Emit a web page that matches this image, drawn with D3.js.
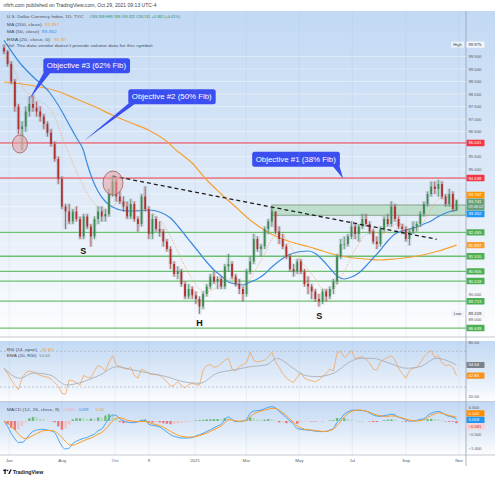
<!DOCTYPE html>
<html><head><meta charset="utf-8">
<script src="https://cdn.jsdelivr.net/npm/d3@7/dist/d3.min.js"></script>
<style>html,body{margin:0;padding:0;background:#fff}svg{display:block}</style>
</head><body><svg id="chart" width="495" height="480"></svg>
<script>
// ---------------- DATA ----------------
const startDate = "2020-05-26", endDate = "2021-10-29";
const opens = [99.85,99.7,99.2,98.5,97.5,96.6,96.7,97.3,97.6,97.45,
97.3,97.1,96.8,96.45,96.0,95.4,94.6,93.5,93.3,92.9,
93.3,93.0,92.3,93.1,92.7,92.3,93.0,93.3,93.1,93.2,
94.0,94.5,93.9,93.7,93.5,93.1,93.6,93.0,92.8,93.9,
93.4,92.4,93.0,92.6,92.5,92.1,91.8,91.2,90.8,90.9,
90.4,89.9,90.2,89.95,89.8,89.5,90.0,90.3,90.7,90.5,
90.6,90.3,91.1,91.2,90.7,90.4,90.2,90.0,90.9,91.3,
92.2,91.8,91.9,92.6,92.9,93.3,92.5,92.2,91.9,91.5,
91.0,90.9,91.3,90.9,90.4,90.3,90.1,89.8,89.7,90.1,
89.9,90.2,90.5,91.5,92.0,92.0,92.3,92.7,92.4,92.7,
93.0,92.8,92.5,92.1,92.0,92.6,93.0,92.8,93.5,93.0,
92.7,92.6,92.2,92.5,92.7,92.8,93.2,93.6,94.0,94.3,
94.2,94.4,93.9,93.6,94.0,93.359];
const highs = [99.975,99.75,99.3,98.6,97.6,96.9,97.5,97.9,97.95,97.7,
97.5,97.2,96.9,96.6,96.1,95.5,94.7,93.6,93.6,93.4,
93.5,93.1,93.2,93.2,92.8,93.1,93.5,93.5,93.4,94.2,
94.7,94.6,94.1,93.9,93.7,93.8,93.7,93.1,94.0,94.3,
93.5,93.2,93.1,92.9,92.6,92.2,91.9,91.3,91.1,91.0,
90.5,90.4,90.3,90.1,89.9,90.1,90.4,90.8,90.9,90.7,
90.7,91.2,91.6,91.3,90.8,90.6,90.3,91.0,91.5,92.4,
92.3,92.0,92.7,93.0,93.45,93.3,92.7,92.4,92.0,91.6,
91.2,91.4,91.4,91.0,90.7,90.4,90.2,90.0,90.2,90.2,
90.3,90.6,91.6,92.2,92.3,92.4,92.9,92.8,92.8,93.2,
93.2,92.9,92.6,92.3,92.7,93.1,93.2,93.7,93.6,93.1,
92.8,92.7,92.6,92.9,92.9,93.3,93.7,94.1,94.5,94.5,
94.56,94.5,94.0,94.2,94.1,93.769];
const lows = [99.6,99.1,98.4,97.3,96.4,95.75,96.5,97.1,97.3,97.1,
96.9,96.6,96.3,95.9,95.3,94.4,93.4,92.6,92.8,92.8,
92.9,92.2,92.2,92.6,91.9,92.2,92.8,92.9,92.9,93.1,
93.9,93.7,93.6,93.3,93.0,93.0,92.9,92.5,92.7,93.3,
92.2,92.2,92.5,92.3,91.9,91.7,91.0,90.7,90.6,90.3,
89.8,89.8,89.8,89.6,89.209,89.4,89.9,90.2,90.4,90.2,
90.2,90.2,90.9,90.6,90.3,90.0,89.7,89.9,90.8,91.2,
91.7,91.5,91.8,92.4,92.7,92.4,92.0,91.8,91.4,90.9,
90.7,90.8,90.8,90.3,90.0,89.8,89.7,89.5,89.6,89.7,
89.8,90.0,90.4,91.4,91.8,91.9,92.2,92.2,92.1,92.6,
92.7,92.4,92.0,91.8,91.9,92.5,92.7,92.7,92.9,92.6,
92.4,92.1,91.95,92.4,92.5,92.7,93.1,93.5,93.9,94.0,
93.9,93.8,93.5,93.5,93.3,93.322];
const closes = [99.7,99.2,98.5,97.5,96.6,96.7,97.3,97.6,97.45,97.3,
97.1,96.8,96.45,96.0,95.4,94.6,93.5,93.3,92.9,93.3,
93.0,92.3,93.1,92.7,92.3,93.0,93.3,93.1,93.2,94.0,
94.5,93.9,93.7,93.5,93.1,93.6,93.0,92.8,93.9,93.4,
92.4,93.0,92.6,92.5,92.1,91.8,91.2,90.8,90.9,90.4,
89.9,90.2,89.95,89.8,89.5,90.0,90.3,90.7,90.5,90.6,
90.3,91.1,91.2,90.7,90.4,90.2,90.0,90.9,91.3,92.2,
91.8,91.9,92.6,92.9,93.3,92.5,92.2,91.9,91.5,91.0,
90.9,91.3,90.9,90.4,90.3,90.1,89.8,89.7,90.1,89.9,
90.2,90.5,91.5,92.0,92.0,92.3,92.7,92.4,92.7,93.0,
92.8,92.5,92.1,92.0,92.6,93.0,92.8,93.5,93.0,92.7,
92.6,92.2,92.5,92.7,92.8,93.2,93.6,94.0,94.3,94.2,
94.4,93.9,93.6,94.0,93.4,93.741];

// moving averages as [bar index, value]
const ma200 = [[0,98.48],[5,98.4],[10,98.28],[15,98.1],[20,97.8],[25,97.5],[30,97.15],[35,96.85],[40,96.55],[45,96.1],[48,95.7],[50,95.48],[52,95.24],[54,94.9],[56,94.56],[58,94.28],[60,94.0],[64,93.48],[68,92.96],[72,92.55],[76,92.25],[80,92.05],[84,91.9],[88,91.72],[92,91.55],[96,91.45],[100,91.4],[104,91.36],[108,91.4],[112,91.47],[116,91.57],[120,91.72],[125,91.957]];
const ma50 = [[0,100.15],[1.2,99.89],[4.4,99.24],[8,98.69],[12.7,98.04],[15,97.55],[17.3,96.96],[20,96.25],[21.9,95.76],[23,95.2],[24.5,94.56],[26,94.1],[28,93.7],[30,93.48],[33,93.34],[36,93.32],[40,93.36],[43,93.28],[46,93.04],[48,92.72],[50,92.36],[52,92.0],[54,91.64],[56,91.28],[58,90.96],[60,90.72],[62,90.48],[64,90.4],[66,90.36],[68,90.48],[70,90.6],[72,90.8],[74,91.08],[76,91.32],[78,91.52],[80,91.64],[82,91.7],[84,91.72],[86,91.62],[88,91.36],[90,91.04],[92,90.72],[94,90.6],[96,90.68],[98,90.84],[100,91.12],[102,91.44],[104,91.76],[106,92.12],[108,92.4],[110,92.52],[112,92.6],[114,92.68],[116,92.8],[118,92.92],[120,93.1],[122,93.24],[125,93.352]];
const ema20 = [[0,99.5],[2,99.2],[4,98.6],[6,98.1],[8,97.9],[10,97.7],[12,97.5],[14,97.1],[16,96.3],[18,95.6],[20,94.9],[22,94.3],[24,93.8],[26,93.5],[28,93.3],[30,93.5],[32,93.75],[34,93.6],[36,93.4],[38,93.35],[40,93.4],[42,93.1],[44,92.8],[46,92.3],[48,91.7],[50,91.1],[52,90.6],[54,90.2],[56,90.1],[58,90.2],[60,90.4],[62,90.6],[64,90.6],[66,90.4],[68,90.6],[70,91.1],[72,91.6],[74,92.2],[76,92.4],[78,92.2],[80,91.7],[82,91.3],[84,91.0],[86,90.6],[88,90.2],[90,90.1],[92,90.4],[94,90.9],[96,91.5],[98,92.0],[100,92.4],[102,92.5],[104,92.4],[106,92.5],[108,92.8],[110,92.8],[112,92.6],[114,92.6],[116,92.9],[118,93.4],[120,93.8],[122,93.9],[125,93.767]];

const rsi = [51,45,38,32,27,40,46,48,47,45,
43,42,41,39,35,31,23,22,38,37,
35,32,43,41,40,48,54,52,48,58,
65,55,53,51,50,52,43,40,50,48,
45,44,44,43,40,36,31,32,36,32,
29,33,34,33,32,49,54,55,52,53,
56,60,62,50,48,53,55,57,69,60,
58,59,60,64,69,58,52,45,40,37,
35,41,46,40,38,37,36,38,42,45,
50,48,68,70,63,66,71,62,63,64,
61,57,50,49,58,61,63,65,60,51,
45,40,48,51,52,57,64,68,71,63,
65,57,54,55,52,42.8];
const rsiEma = [[0,51],[4.4,39.8],[8,45.7],[12.7,43.5],[17.3,32.3],[21.9,36],[26.5,43.5],[31.1,52.7],[35.7,49],[40.3,45.4],[44.9,41.6],[49.5,36],[54.1,34.2],[58.8,45.4],[63.3,49],[68,52.7],[72.6,55],[75.3,62],[79.9,51],[82.7,43.5],[86.4,41.6],[91,45.4],[95.6,58.3],[98.4,62.1],[102,62],[106.6,56.4],[111.2,51],[114.9,52.7],[119.5,62.1],[123.2,58.3],[125,54.64]];

const macd = [0.0,-0.2,-0.45,-0.65,-0.78,-0.78,-0.68,-0.5,-0.38,-0.33,
-0.31,-0.3,-0.33,-0.36,-0.42,-0.67,-0.92,-1.02,-0.99,-0.82,
-0.74,-0.68,-0.63,-0.6,-0.53,-0.48,-0.35,-0.3,-0.1,0.1,
0.22,0.2,0.08,0.0,-0.04,-0.06,-0.06,-0.03,0.02,0.03,
-0.12,-0.16,-0.18,-0.22,-0.3,-0.4,-0.5,-0.56,-0.6,-0.62,
-0.62,-0.62,-0.6,-0.55,-0.5,-0.45,-0.38,-0.32,-0.25,-0.18,
-0.12,0.05,0.15,0.05,-0.02,-0.02,0.0,0.06,0.28,0.36,
0.38,0.4,0.45,0.5,0.52,0.48,0.35,0.25,0.12,0.0,
-0.12,-0.28,-0.3,-0.32,-0.33,-0.35,-0.37,-0.38,-0.39,-0.38,
-0.33,-0.27,-0.05,0.08,0.25,0.33,0.39,0.4,0.39,0.38,
0.36,0.3,0.22,0.18,0.17,0.2,0.22,0.25,0.22,0.14,
0.1,0.04,0.0,0.0,0.02,0.06,0.08,0.2,0.28,0.33,
0.35,0.3,0.22,0.17,0.14,0.059];
const signal = [0.0,-0.08,-0.2,-0.33,-0.47,-0.6,-0.64,-0.6,-0.53,-0.46,
-0.4,-0.35,-0.34,-0.35,-0.37,-0.47,-0.6,-0.75,-0.86,-0.88,
-0.84,-0.78,-0.72,-0.67,-0.62,-0.56,-0.48,-0.42,-0.3,-0.15,
0.0,0.1,0.12,0.08,0.03,0.0,-0.01,-0.02,-0.02,-0.02,
-0.06,-0.1,-0.13,-0.17,-0.22,-0.3,-0.38,-0.45,-0.52,-0.56,
-0.58,-0.59,-0.58,-0.57,-0.53,-0.49,-0.44,-0.38,-0.32,-0.25,
-0.18,-0.06,0.05,0.04,0.01,-0.01,0.0,0.02,0.15,0.26,
0.32,0.36,0.4,0.43,0.46,0.46,0.4,0.3,0.2,0.07,
-0.05,-0.18,-0.25,-0.3,-0.32,-0.33,-0.35,-0.37,-0.38,-0.38,
-0.35,-0.3,-0.16,-0.02,0.15,0.27,0.35,0.39,0.4,0.39,
0.36,0.32,0.26,0.22,0.19,0.17,0.17,0.19,0.18,0.14,
0.11,0.07,0.03,0.01,0.0,0.02,0.05,0.13,0.2,0.26,
0.3,0.28,0.24,0.2,0.17,0.14];

const greenLevels = [92.465, 91.510, 90.905, 90.518, 89.713, 88.639];
const redLevels = [96.041, 94.638];
const zone = {from: 74, top: 93.56, bottom: 93.15};
const trendline = [[30, 94.72], [119.5, 92.19]];
const circles = [{i: 4.4, p: 96.0, rx: 7.5, ry: 9}, {i: 30.1, p: 94.44, rx: 10, ry: 12}];
const callouts = [
  {text: "Objective #3 (62% Fib)", i: 7.0, p: 97.79, dx: 14, dy: -41, w: 86.7, side: "left"},
  {text: "Objective #2 (50% Fib)", i: 22.1, p: 96.13, dx: 44.3, dy: -51.4, w: 87.4, side: "left"},
  {text: "Objective #1 (38% Fib)", i: 93.7, p: 94.61, dx: -91, dy: -27, w: 87.7, side: "right"}
];
const patternLabels = [{t: "S", i: 21.9, p: 91.73}, {t: "H", i: 54, p: 88.83}, {t: "S", i: 87.1, p: 89.12}];
const timeTicks = ["2020-06-01","2020-08-01","2020-10-01","2020-11-09","2021-01-01","2021-03-01","2021-05-01","2021-07-01","2021-09-01","2021-11-01"];
const timeLabels = ["Jun","Aug","Oct","9","2021","Mar","May","Jul","Sep","Nov"];
const priceTicks = [88.5,89,89.5,90,90.5,91,91.5,92,92.5,93,93.5,94,94.5,95,95.5,96,96.5,97,97.5,98,98.5,99,99.5];
const rsiTicks = [20,40,60,80];
const macdTicks = [0.5,0,-0.5,-1];
const hiLo = {high: 99.975, low: 89.209};

// ---------------- LAYOUT ----------------
const svg = d3.select("#chart").style("font-family", '"Liberation Sans", Arial, sans-serif');
const AX = 466, W = 495;
const pane = {main: [11, 337], rsi: [341, 401.5], macd: [402, 455]};
const C = {up: "#3a8a50", down: "#b0302e", red: "#f23645", green: "#5cb860", orange: "#f59a23", blue: "#2f86e0", text: "#4a4f5a", axisText: "#555b66"};

const N = closes.length;
const t0 = d3.isoParse(startDate), t1 = d3.isoParse(endDate);
const x = d3.scaleTime().domain([t0, t1]).range([4, 456.5]);
const barDate = i => new Date(+t0 + (t1 - t0) * i / (N - 1));
const xi = i => x(barDate(i));
const y = d3.scaleLinear().domain([95, 99]).range([169, 69]);
const yr = d3.scaleLinear().domain([20, 80]).range([396, 342.3]);
const ym = d3.scaleLinear().domain([-1, 0.5]).range([448.4, 407.3]);

const defs = svg.append("defs");
const grad = defs.append("linearGradient").attr("id", "bg").attr("x1", 0).attr("y1", 0).attr("x2", 0).attr("y2", 1);
grad.append("stop").attr("offset", 0).attr("stop-color", "#c2d9f4");
grad.append("stop").attr("offset", 0.55).attr("stop-color", "#dfeaf8");
grad.append("stop").attr("offset", 1).attr("stop-color", "#fdfeff");
Object.entries(pane).forEach(([k, [a, b]]) => {
  defs.append("clipPath").attr("id", "clip-" + k).append("rect").attr("x", 0).attr("y", a).attr("width", AX).attr("height", b - a);
  svg.append("rect").attr("x", 0).attr("y", a).attr("width", W).attr("height", b - a).attr("fill", "url(#bg)");
});

// separators / axis line
[337, 401.5, 455].forEach(yy => svg.append("line").attr("x1", 0).attr("x2", W).attr("y1", yy).attr("y2", yy).attr("stroke", "#b4bac4").attr("stroke-width", 0.8));
svg.append("line").attr("x1", AX).attr("x2", AX).attr("y1", 11).attr("y2", 466).attr("stroke", "#9aa1ad").attr("stroke-width", 0.8);

// grids
const tickDates = timeTicks.map(d3.isoParse);
const gMain = svg.append("g").attr("clip-path", "url(#clip-main)");
priceTicks.forEach(p => gMain.append("line").attr("x1", 0).attr("x2", AX).attr("y1", y(p)).attr("y2", y(p)).attr("stroke", "#ffffff").attr("stroke-opacity", 0.55).attr("stroke-width", 0.7));
Object.values(pane).forEach(([a, b]) => tickDates.forEach(d => svg.append("line").attr("x1", x(d)).attr("x2", x(d)).attr("y1", a).attr("y2", b).attr("stroke", "#9fb3c9").attr("stroke-opacity", 0.22).attr("stroke-width", 0.7)));

// levels
redLevels.forEach(p => gMain.append("line").attr("x1", 0).attr("x2", AX).attr("y1", y(p)).attr("y2", y(p)).attr("stroke", C.red).attr("stroke-width", 1));
greenLevels.forEach(p => gMain.append("line").attr("x1", 0).attr("x2", AX).attr("y1", y(p)).attr("y2", y(p)).attr("stroke", "#6cc070").attr("stroke-width", 1.3));
gMain.append("rect").attr("x", xi(zone.from)).attr("y", y(zone.top)).attr("width", AX - xi(zone.from)).attr("height", y(zone.bottom) - y(zone.top))
  .attr("fill", "#9fd3a8").attr("fill-opacity", 0.55).attr("stroke", "#7f9a86").attr("stroke-width", 0.9);

// moving averages
const lineIV = d3.line().x(d => xi(d[0])).y(d => y(d[1])).curve(d3.curveMonotoneX);
gMain.append("path").attr("d", lineIV(ma200)).attr("fill", "none").attr("stroke", "#f7a032").attr("stroke-width", 1.2);
gMain.append("path").attr("d", lineIV(ma50)).attr("fill", "none").attr("stroke", "#3b8ade").attr("stroke-width", 1.2);
gMain.append("path").attr("d", lineIV(ema20)).attr("fill", "none").attr("stroke", "#f5a660").attr("stroke-width", 0.8).attr("stroke-dasharray", "1.2,1.3");

// candles
const bars = d3.range(N).map(i => ({i, o: opens[i], h: highs[i], l: lows[i], c: closes[i]}));
gMain.selectAll(".ghost").data(bars).join("rect").attr("x", d => xi(d.i) - 1.9).attr("width", 3.8)
  .attr("y", d => y(d.h) - 0.5).attr("height", d => y(d.l) - y(d.h) + 1).attr("fill", "#8c939c").attr("fill-opacity", 0.28);
gMain.selectAll(".wick").data(bars).join("line").attr("x1", d => xi(d.i)).attr("x2", d => xi(d.i))
  .attr("y1", d => y(d.h)).attr("y2", d => y(d.l)).attr("stroke", d => d.c >= d.o ? C.up : C.down).attr("stroke-width", 0.7);
gMain.selectAll(".body").data(bars).join("rect").attr("x", d => xi(d.i) - 0.9).attr("width", 1.8)
  .attr("y", d => y(Math.max(d.o, d.c))).attr("height", d => Math.max(0.7, Math.abs(y(d.o) - y(d.c))))
  .attr("fill", d => d.c >= d.o ? C.up : C.down);

// trendline, circles
gMain.append("line").attr("x1", xi(trendline[0][0])).attr("y1", y(trendline[0][1])).attr("x2", xi(trendline[1][0])).attr("y2", y(trendline[1][1]))
  .attr("stroke", "#1e1e1e").attr("stroke-width", 1.3).attr("stroke-dasharray", "4,3");
circles.forEach(c => gMain.append("ellipse").attr("cx", xi(c.i)).attr("cy", y(c.p)).attr("rx", c.rx).attr("ry", c.ry)
  .attr("fill", "#e8a3a3").attr("fill-opacity", 0.55).attr("stroke", "#a65a5a").attr("stroke-width", 0.8));

// pattern labels
patternLabels.forEach(l => gMain.append("text").attr("x", xi(l.i)).attr("y", y(l.p)).attr("text-anchor", "middle").attr("dominant-baseline", "central")
  .attr("font-size", 9).attr("font-weight", "bold").attr("fill", "#111").text(l.t));

// callouts
callouts.forEach(c => {
  const tx = xi(c.i), ty = y(c.p), bx = tx + c.dx, by = ty + c.dy, h = 15;
  const g = gMain.append("g");
  const b0 = c.side === "left" ? bx + 0.5 : bx + c.w - 7.5, b1 = b0 + 7;
  g.append("path").attr("d", `M${b0},${by + h - 1}L${tx},${ty}L${b1},${by + h - 1}Z`).attr("fill", "#3b4ff0");
  g.append("rect").attr("x", bx).attr("y", by).attr("width", c.w).attr("height", h).attr("rx", 2.5).attr("fill", "#3b4ff0");
  g.append("text").attr("x", bx + 3.5).attr("y", by + h / 2).attr("dominant-baseline", "central").attr("font-size", 7.2)
    .attr("fill", "#fff").attr("textLength", c.w - 7.5).attr("lengthAdjust", "spacingAndGlyphs").text(c.text);
});

// RSI pane
const gR = svg.append("g").attr("clip-path", "url(#clip-rsi)");
[70, 30].forEach(v => gR.append("line").attr("x1", 0).attr("x2", AX).attr("y1", yr(v)).attr("y2", yr(v)).attr("stroke", "#9aa4b0").attr("stroke-width", 0.6).attr("stroke-dasharray", "2,2"));
gR.append("path").attr("d", d3.line().x((d, i) => xi(i)).y(d => yr(d))(rsi)).attr("fill", "none").attr("stroke", "#f5a65b").attr("stroke-width", 0.8);
gR.append("path").attr("d", d3.line().x(d => xi(d[0])).y(d => yr(d[1])).curve(d3.curveMonotoneX)(rsiEma)).attr("fill", "none").attr("stroke", "#a3a8b0").attr("stroke-width", 0.8);

// MACD pane
const gM = svg.append("g").attr("clip-path", "url(#clip-macd)");
const hist = macd.map((m, i) => m - signal[i]);
gM.selectAll(".h").data(hist).join("rect").attr("x", (d, i) => xi(i) - 1.2).attr("width", 2.4)
  .attr("y", d => Math.min(ym(d), ym(0))).attr("height", d => Math.abs(ym(d) - ym(0)))
  .attr("fill", (d, i) => { const p = i ? hist[i - 1] : d; return d >= 0 ? (d >= p ? "#4caf50" : "#a5d6a7") : (d <= p ? "#ef5350" : "#f7b6b6"); })
  .attr("fill-opacity", 0.75);
gM.append("path").attr("d", d3.line().x((d, i) => xi(i)).y(d => ym(d)).curve(d3.curveMonotoneX)(macd)).attr("fill", "none").attr("stroke", "#46a3f5").attr("stroke-width", 1);
gM.append("path").attr("d", d3.line().x((d, i) => xi(i)).y(d => ym(d)).curve(d3.curveMonotoneX)(signal)).attr("fill", "none").attr("stroke", "#ff9a1f").attr("stroke-width", 1);

// ---------------- TEXT ----------------
function seg(xp, yp, txt, col, size, w) {
  const t = svg.append("text").attr("x", xp).attr("y", yp).attr("dominant-baseline", "central").attr("font-size", size || 4.5).attr("fill", col || C.text).text(txt);
  if (w) t.attr("textLength", w).attr("lengthAdjust", "spacingAndGlyphs");
  return t;
}
seg(3.5, 5.7, "nftrh.com published on TradingView.com, Oct 29, 2021 09:13 UTC-4", "#3a3f48", 4.6, 153);
seg(6.7, 16.7, "U.S. Dollar Currency Index, 1D, TVC", C.text, 4.4, 76.6);
seg(90, 16.7, "O93.359 H93.769 L93.322 C93.741 +0.382 (+0.41%)", "#2e8b57", 4.4, 90);
seg(6.7, 24, "MA (200, close)", C.text, 4.4, 35); seg(45, 24, "91.957", C.orange, 4.4, 14.3);
seg(6.7, 31.7, "MA (50, close)", C.text, 4.4, 32.6); seg(41.7, 31.7, "93.352", C.blue, 4.4, 15);
seg(6.7, 39.3, "EMA (20, close, 0)", C.text, 4.4, 43.3); seg(54.3, 39.3, "93.767", C.orange, 4.4, 12.4);
seg(6.7, 45.7, "Vol: The data vendor doesn't provide volume data for this symbol.", C.text, 4.4, 147);

seg(6.7, 349, "RSI (14, open)", C.text, 4.4, 30); seg(41.7, 349, "42.80", C.orange, 4.4, 11.6);
seg(6.7, 355.7, "EMA (20, RSI)", C.text, 4.4, 30); seg(39.3, 355.7, "54.64", "#7d838c", 4.4, 10.7);
seg(6.7, 409, "MACD (12, 26, close, 9)", C.text, 4.4, 52.6);
seg(63.3, 409, "−0.081", "#f3a3a3", 4.4, 11.7); seg(79, 409, "0.059", C.blue, 4.4, 9.3); seg(95.7, 409, "0.140", C.orange, 4.4, 8.3);

// time axis
tickDates.forEach((d, k) => svg.append("text").attr("x", x(d)).attr("y", 460.3).attr("text-anchor", "middle").attr("dominant-baseline", "central")
  .attr("font-size", 4.4).attr("fill", C.axisText).text(timeLabels[k]));

// logo
const lg = svg.append("g").attr("fill", "#131722");
lg.append("rect").attr("x", 3.3).attr("y", 469.6).attr("width", 3.2).attr("height", 1.4);
lg.append("rect").attr("x", 4.4).attr("y", 469.6).attr("width", 1.3).attr("height", 4.4);
lg.append("circle").attr("cx", 7.6).attr("cy", 470.4).attr("r", 0.75);
lg.append("path").attr("d", "M8.2,474L10.2,469.6L11.7,469.6L9.7,474Z");
seg(12.7, 471.9, "TradingView", "#131722", 5, 30.6).attr("font-weight", "bold");

// ---------------- PRICE AXES ----------------
function layout(labels) {
  labels.sort((a, b) => a.y0 - b.y0);
  labels.forEach(l => l.cy = l.y0);
  for (let it = 0; it < 200; it++) {
    let moved = false;
    for (let k = 0; k < labels.length - 1; k++) {
      const a = labels[k], b = labels[k + 1];
      const ov = (a.cy + a.down) - (b.cy - b.up) + 0.3;
      if (ov > 0.01) { a.cy -= ov / 2; b.cy += ov / 2; moved = true; }
    }
    if (!moved) break;
  }
  return labels;
}
function drawLabel(l) {
  svg.append("rect").attr("x", AX + 0.5).attr("y", l.cy - l.up).attr("width", 18).attr("height", l.up + l.down).attr("fill", l.bg).attr("rx", 0.6);
  svg.append("text").attr("x", AX + 2.5).attr("y", l.cy).attr("dominant-baseline", "central").attr("font-size", 4.2).attr("fill", l.fg || "#fff").text(l.txt);
  if (l.extra) svg.append("text").attr("x", AX + 2.5).attr("y", l.cy + 5.3).attr("dominant-baseline", "central").attr("font-size", 3.8).attr("fill", "#eef5ef").text(l.extra);
}
// draw tick labels that are not covered by a coloured label
function drawTicks(ticks, scale, fmt, labels) {
  ticks.forEach(v => {
    const yy = scale(v);
    if (labels.some(l => yy > l.cy - l.up - 2.6 && yy < l.cy + l.down + 2.6)) return;
    svg.append("text").attr("x", AX + 2.5).attr("y", yy).attr("dominant-baseline", "central").attr("font-size", 4.2).attr("fill", C.axisText).text(fmt(v));
  });
}
const f3 = d3.format(".3f"), f2 = d3.format(".2f");
const mainLabels = layout([
  ...redLevels.map(v => ({v, bg: C.red})),
  ...greenLevels.map(v => ({v, bg: "#4caf50"})),
  {v: ema20[ema20.length - 1][1], bg: "#ff9800"},
  {v: ma200[ma200.length - 1][1], bg: "#f7a032"},
  {v: ma50[ma50.length - 1][1], bg: "#2196f3"},
  {v: closes[N - 1], bg: "#6a9f7a", extra: "09:46:02"}
].map(l => ({...l, y0: y(l.v), up: 3.2, down: l.extra ? 8.8 : 3.2, txt: f3(l.v)})));
const hiLoLabels = [["High", hiLo.high], ["Low", hiLo.low]].map(([t, v]) => ({tag: t, cy: y(v), up: 3.1, down: 3.1, bg: "#f2f5fa", fg: "#333", txt: f3(v)}));
drawTicks(priceTicks, y, f3, mainLabels.concat(hiLoLabels.map(l => ({...l, up: 1.2, down: 1.2}))));
mainLabels.forEach(drawLabel);
hiLoLabels.forEach(l => {
  svg.append("rect").attr("x", 451).attr("y", l.cy - 3).attr("width", 13).attr("height", 6).attr("fill", "#eef2f8").attr("fill-opacity", 0.9);
  svg.append("text").attr("x", 457.5).attr("y", l.cy).attr("text-anchor", "middle").attr("dominant-baseline", "central").attr("font-size", 4.2).attr("fill", "#444").text(l.tag);
  drawLabel(l);
});

// RSI axis
const rsiLabels = layout([{v: rsiEma[rsiEma.length - 1][1], bg: "#7b828c"}, {v: rsi[N - 1], bg: "#f7931e"}]
  .map(l => ({...l, y0: yr(l.v), up: 3.1, down: 3.1, txt: f2(l.v)})));
drawTicks(rsiTicks, yr, f2, rsiLabels);
rsiLabels.forEach(drawLabel);

// MACD axis
const macdLabels = layout([{v: signal[N - 1], bg: "#ff8f00"}, {v: macd[N - 1], bg: "#2196f3"}, {v: hist[N - 1], bg: "#fbd0d0", fg: "#c0392b"}]
  .map(l => ({...l, y0: ym(l.v), up: 3.1, down: 3.1, txt: f3(l.v)})));
drawTicks(macdTicks, ym, f3, macdLabels);
macdLabels.forEach(drawLabel);
</script></body></html>
